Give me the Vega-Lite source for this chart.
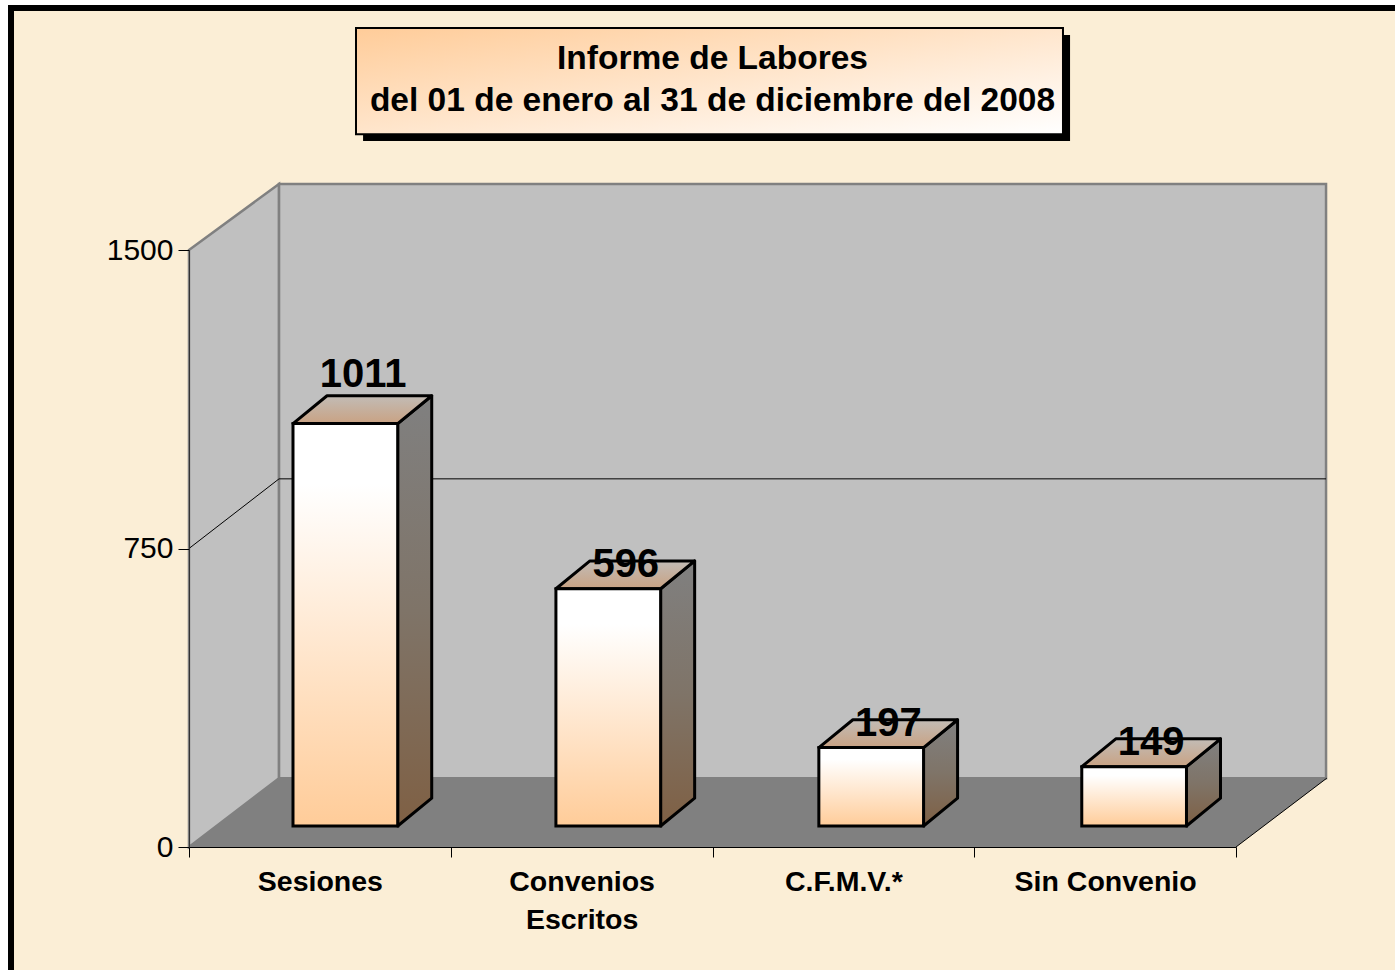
{
"$schema":"https://vega.github.io/schema/vega-lite/v6.json",
"width":1047,"height":597,
"autosize":{"type":"none"},
"padding":{"left":189,"top":250,"right":159,"bottom":123},
"background":"#ffffff",
"view":{"stroke":null},
"data":{"values":[{"marco":1}]},
"resolve":{"axis":{"x":"independent","y":"independent"}},
"datasets":{
"barras":[
{"categoria":"Sesiones","valor":1011},
{"categoria":"Convenios Escritos","valor":596},
{"categoria":"C.F.M.V.*","valor":197},
{"categoria":"Sin Convenio","valor":149}],
"fondo":[{"d":0},{"d":1}]
},
"layer":[
{"mark":{"type":"rect","fill":"#fbeed6","stroke":"#000000","strokeWidth":6},
 "encoding":{
  "x":{"datum":-0.68,"type":"quantitative","scale":{"domain":[0,4],"nice":false,"zero":false},
   "axis":{"zindex":1,"title":null,"grid":false,"values":[0,0.5,1,1.5,2,2.5,3,3.5,4],"tickSize":10,"tickColor":"#000000","domainColor":"#000000","labelColor":"#000000","labelFont":"Liberation Sans","labelFontWeight":"bold","labelFontSize":28.5,"labelPadding":10,"labelLimit":500,"labelLineHeight":38,"labelAngle":0,"labelOverlap":false,"labelFlush":false,"labelBaseline":"top",
    "tickOpacity":{"condition":{"test":"datum.value % 1 != 0","value":0},"value":1},
    "labelExpr":"datum.value==0.5?'Sesiones':datum.value==1.5?['Convenios','Escritos']:datum.value==2.5?'C.F.M.V.*':datum.value==3.5?'Sin Convenio':''"}},
  "x2":{"datum":4.7},
  "y":{"datum":2108,"type":"quantitative","scale":{"domain":[0,1500],"nice":false,"zero":false},
   "axis":{"zindex":1,"title":null,"grid":false,"format":"d","values":[0,750,1500],"tickSize":11,"tickColor":"#000000","domainColor":"#333333","labelColor":"#000000","labelFont":"Liberation Sans","labelFontSize":30,"labelPadding":5,"labelFlush":false,"labelOverlap":false}},
  "y2":{"datum":-330}}},
{"data":{"name":"fondo"},
 "transform":[{"calculate":"datum.d*0.344","as":"px"},{"calculate":"1500+datum.d*166","as":"py"},{"calculate":"datum.d*173","as":"py2"}],
 "mark":{"type":"area","fill":"#c0c0c0","stroke":"#808080","strokeWidth":2.5},
 "encoding":{
  "x":{"field":"px","type":"quantitative","axis":null,"scale":{"domain":[0,4],"nice":false,"zero":false}},
  "y":{"field":"py","type":"quantitative","axis":null,"stack":null,"scale":{"domain":[0,1500],"nice":false,"zero":false}},
  "y2":{"field":"py2"}}},
{"mark":{"type":"rect","fill":"#c0c0c0","stroke":"#808080","strokeWidth":2.5},
 "encoding":{
  "x":{"datum":0.344,"type":"quantitative","axis":null,"scale":{"domain":[0,4],"nice":false,"zero":false}},
  "x2":{"datum":4.344},
  "y":{"datum":1666,"type":"quantitative","axis":null,"scale":{"domain":[0,1500],"nice":false,"zero":false}},
  "y2":{"datum":173}}},
{"data":{"name":"fondo"},
 "transform":[{"calculate":"datum.d*173","as":"py"},{"calculate":"datum.d*0.344","as":"px"},{"calculate":"4+datum.d*0.347","as":"px2"}],
 "mark":{"type":"area","orient":"horizontal","fill":"#808080"},
 "encoding":{
  "y":{"field":"py","type":"quantitative","axis":null,"scale":{"domain":[0,1500],"nice":false,"zero":false}},
  "x":{"field":"px","type":"quantitative","axis":null,"stack":null,"scale":{"domain":[0,4],"nice":false,"zero":false}},
  "x2":{"field":"px2"}}},
{"data":{"name":"fondo"},
 "transform":[{"calculate":"4+datum.d*0.347","as":"px"},{"calculate":"datum.d*173","as":"py"}],
 "mark":{"type":"line","color":"#000000","strokeWidth":1},
 "encoding":{
  "x":{"field":"px","type":"quantitative","axis":null,"scale":{"domain":[0,4],"nice":false,"zero":false}},
  "y":{"field":"py","type":"quantitative","axis":null,"scale":{"domain":[0,1500],"nice":false,"zero":false}}}},
{"data":{"name":"fondo"},
 "transform":[{"calculate":"datum.d*0.344","as":"px"},{"calculate":"750+datum.d*175","as":"py"}],
 "mark":{"type":"line","color":"#000000","strokeWidth":1},
 "encoding":{
  "x":{"field":"px","type":"quantitative","axis":null,"scale":{"domain":[0,4],"nice":false,"zero":false}},
  "y":{"field":"py","type":"quantitative","axis":null,"scale":{"domain":[0,1500],"nice":false,"zero":false}}}},
{"mark":{"type":"rule","color":"#000000","strokeWidth":1},
 "encoding":{
  "x":{"datum":0.344,"type":"quantitative","axis":null,"scale":{"domain":[0,4],"nice":false,"zero":false}},
  "x2":{"datum":4.344},
  "y":{"datum":925,"type":"quantitative","axis":null,"scale":{"domain":[0,1500],"nice":false,"zero":false}}}},
{"data":{"name":"barras"},
 "transform":[
  {"calculate":"indexof(['Sesiones','Convenios Escritos','C.F.M.V.*','Sin Convenio'],datum.categoria)","as":"i"},
  {"calculate":"0.3973+datum.i*1.0045","as":"x0"},
  {"calculate":"datum.x0+0.4","as":"x1"},
  {"calculate":"datum.valor+52.8","as":"ytop"},
  {"calculate":"[0,1]","as":"d"},
  {"flatten":["d"]},
  {"calculate":"datum.x1+datum.d*0.13","as":"sx"},
  {"calculate":"datum.ytop+datum.d*70","as":"sy"},
  {"calculate":"52.8+datum.d*70","as":"sy2"}],
 "mark":{"type":"area","stroke":"#000000","strokeWidth":3,"strokeJoin":"round",
  "fill":{"x1":0,"y1":0,"x2":0,"y2":1,"gradient":"linear","stops":[{"offset":0,"color":"#808080"},{"offset":0.5,"color":"#7f7468"},{"offset":1,"color":"#7f6044"}]}},
 "encoding":{
  "x":{"field":"sx","type":"quantitative","axis":null,"scale":{"domain":[0,4],"nice":false,"zero":false}},
  "y":{"field":"sy","type":"quantitative","axis":null,"stack":null,"scale":{"domain":[0,1500],"nice":false,"zero":false}},
  "y2":{"field":"sy2"},
  "detail":{"field":"categoria"}}},
{"data":{"name":"barras"},
 "transform":[
  {"calculate":"indexof(['Sesiones','Convenios Escritos','C.F.M.V.*','Sin Convenio'],datum.categoria)","as":"i"},
  {"calculate":"0.3973+datum.i*1.0045","as":"x0"},
  {"calculate":"datum.x0+0.4","as":"x1"},
  {"calculate":"datum.valor+52.8","as":"ytop"},
  {"calculate":"[0,1]","as":"d"},
  {"flatten":["d"]},
  {"calculate":"datum.x0+datum.d*0.13","as":"tx"},
  {"calculate":"datum.x1+datum.d*0.13","as":"tx2"},
  {"calculate":"datum.ytop+datum.d*70","as":"ty"}],
 "mark":{"type":"area","orient":"horizontal","stroke":"#000000","strokeWidth":3,"strokeJoin":"round",
  "fill":{"x1":0,"y1":1,"x2":0,"y2":0,"gradient":"linear","stops":[{"offset":0,"color":"#c9a283"},{"offset":1,"color":"#c2bcb6"}]}},
 "encoding":{
  "y":{"field":"ty","type":"quantitative","axis":null,"scale":{"domain":[0,1500],"nice":false,"zero":false}},
  "x":{"field":"tx","type":"quantitative","axis":null,"stack":null,"scale":{"domain":[0,4],"nice":false,"zero":false}},
  "x2":{"field":"tx2"},
  "detail":{"field":"categoria"}}},
{"data":{"name":"barras"},
 "transform":[
  {"calculate":"indexof(['Sesiones','Convenios Escritos','C.F.M.V.*','Sin Convenio'],datum.categoria)","as":"i"},
  {"calculate":"0.3973+datum.i*1.0045","as":"x0"},
  {"calculate":"datum.x0+0.4","as":"x1"},
  {"calculate":"datum.valor+52.8","as":"ytop"}],
 "mark":{"type":"rect","stroke":"#000000","strokeWidth":3,
  "fill":{"x1":0,"y1":0,"x2":0,"y2":1,"gradient":"linear","stops":[{"offset":0,"color":"#ffffff"},{"offset":0.15,"color":"#ffffff"},{"offset":1,"color":"#ffcc99"}]}},
 "encoding":{
  "x":{"field":"x0","type":"quantitative","axis":null,"scale":{"domain":[0,4],"nice":false,"zero":false}},
  "x2":{"field":"x1"},
  "y":{"field":"ytop","type":"quantitative","axis":null,"scale":{"domain":[0,1500],"nice":false,"zero":false}},
  "y2":{"datum":52.8}}},
{"data":{"name":"barras"},
 "transform":[
  {"calculate":"indexof(['Sesiones','Convenios Escritos','C.F.M.V.*','Sin Convenio'],datum.categoria)","as":"i"},
  {"calculate":"0.665+datum.i*1.0036","as":"tx"},
  {"calculate":"datum.valor+52.8+(datum.valor>1000?122:60)","as":"ty"}],
 "mark":{"type":"text","font":"Liberation Sans","fontWeight":"bold","fontSize":40,"color":"#000000","align":"center","baseline":"middle"},
 "encoding":{
  "x":{"field":"tx","type":"quantitative","axis":null,"scale":{"domain":[0,4],"nice":false,"zero":false}},
  "y":{"field":"ty","type":"quantitative","axis":null,"scale":{"domain":[0,1500],"nice":false,"zero":false}},
  "text":{"field":"valor","type":"quantitative"}}},
{"mark":{"type":"rect","fill":"#000000"},
 "encoding":{
  "x":{"datum":0.665,"type":"quantitative","axis":null,"scale":{"domain":[0,4],"nice":false,"zero":false}},
  "x2":{"datum":3.366},
  "y":{"datum":2040,"type":"quantitative","axis":null,"scale":{"domain":[0,1500],"nice":false,"zero":false}},
  "y2":{"datum":1774}}},
{"mark":{"type":"rect","stroke":"#000000","strokeWidth":2,
  "fill":{"x1":0,"y1":0,"x2":1,"y2":1,"gradient":"linear","stops":[{"offset":0,"color":"#ffcc99"},{"offset":1,"color":"#ffffff"}]}},
 "encoding":{
  "x":{"datum":0.638,"type":"quantitative","axis":null,"scale":{"domain":[0,4],"nice":false,"zero":false}},
  "x2":{"datum":3.339},
  "y":{"datum":2058,"type":"quantitative","axis":null,"scale":{"domain":[0,1500],"nice":false,"zero":false}},
  "y2":{"datum":1791}}},
{"mark":{"type":"text","text":"Informe de Labores","font":"Liberation Sans","fontWeight":"bold","fontSize":33.5,"color":"#000000","align":"center","baseline":"middle"},
 "encoding":{
  "x":{"datum":2.0,"type":"quantitative","axis":null,"scale":{"domain":[0,4],"nice":false,"zero":false}},
  "y":{"datum":1980,"type":"quantitative","axis":null,"scale":{"domain":[0,1500],"nice":false,"zero":false}}}},
{"mark":{"type":"text","text":"del 01 de enero al 31 de diciembre del 2008","font":"Liberation Sans","fontWeight":"bold","fontSize":33.5,"color":"#000000","align":"center","baseline":"middle"},
 "encoding":{
  "x":{"datum":2.0,"type":"quantitative","axis":null,"scale":{"domain":[0,4],"nice":false,"zero":false}},
  "y":{"datum":1874,"type":"quantitative","axis":null,"scale":{"domain":[0,1500],"nice":false,"zero":false}}}}
]
}
